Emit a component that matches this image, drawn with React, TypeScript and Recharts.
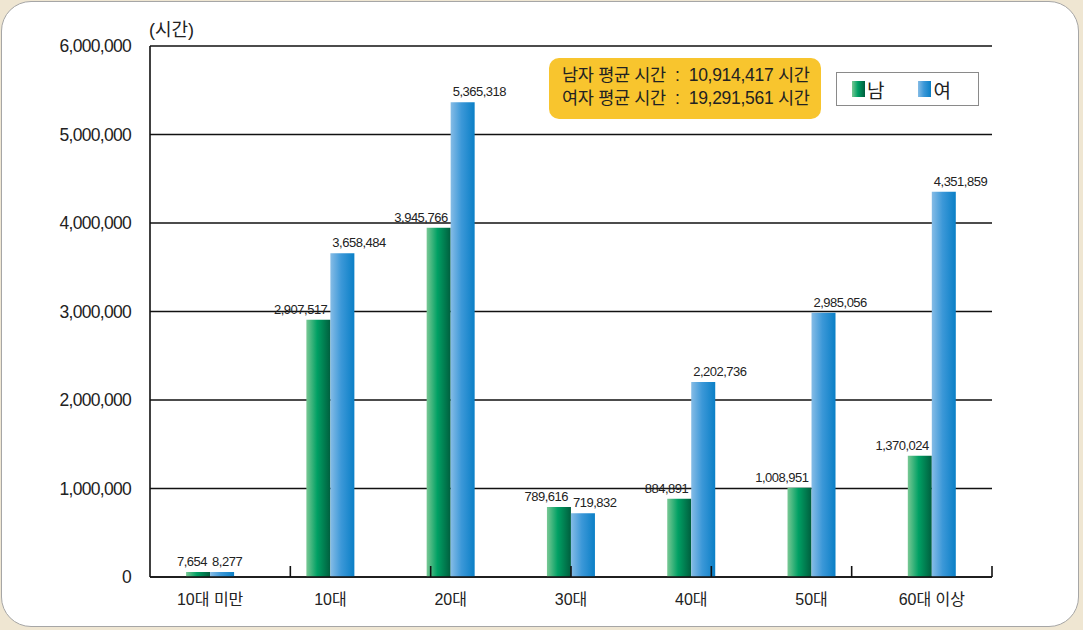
import React from "react"
import {
  BarChart,
  Bar,
  XAxis,
  YAxis,
  CartesianGrid,
} from "recharts"

// 연령대별 이용 시간 (남/여)
const categories = ["10대 미만", "10대", "20대", "30대", "40대", "50대", "60대 이상"]
const maleValues = [7654, 2907517, 3945766, 789616, 884891, 1008951, 1370024]
const femaleValues = [8277, 3658484, 5365318, 719832, 2202736, 2985056, 4351859]
const yTicks = [0, 1000000, 2000000, 3000000, 4000000, 5000000, 6000000]
const boundaryTicks = [1, 2, 3, 4, 5, 6]
const seriesNames = ["남", "여"]
const summaryLines = [
  { label: "남자 평균 시간", value: "10,914,417 시간" },
  { label: "여자 평균 시간", value: "19,291,561 시간" },
]

const data = categories.map((name, i) => ({
  name,
  male: maleValues[i],
  female: femaleValues[i],
}))

const NUM_FONT = "'Liberation Sans', Arial, 'Noto Sans CJK KR', sans-serif"
const KR_FONT = "'Liberation Sans', 'Noto Sans CJK KR', sans-serif"

const greenCss = "linear-gradient(to right, #79c894 0%, #00a064 45%, #005e3e 100%)"
const blueCss = "linear-gradient(to right, #86bce6 0%, #3c98d8 45%, #0a7fc6 100%)"

const fmt = (v: number) => v.toLocaleString("en-US")

const MaleLabel = (props: any) => {
  const { x, y, width, value } = props
  return (
    <text
      x={x + width - 3}
      y={y - 6}
      textAnchor="end"
      fontSize={13}
      fontFamily={NUM_FONT}
      letterSpacing={-0.5}
      fill="#222"
    >
      {fmt(value)}
    </text>
  )
}

const FemaleLabel = (props: any) => {
  const { x, y, value } = props
  return (
    <text
      x={x + 2}
      y={y - 6}
      textAnchor="start"
      fontSize={13}
      fontFamily={NUM_FONT}
      letterSpacing={-0.5}
      fill="#222"
    >
      {fmt(value)}
    </text>
  )
}

const LegendBox = () => (
  <div
    style={{
      position: "absolute",
      left: 836,
      top: 72,
      width: 143,
      height: 34,
      border: "1px solid #8a8a8a",
      background: "#fff",
      display: "flex",
      alignItems: "center",
      fontFamily: KR_FONT,
      fontSize: 19,
      color: "#222",
      boxSizing: "border-box",
    }}
  >
    <span style={{ display: "inline-block", width: 13, height: 16, background: greenCss, marginLeft: 15 }} />
    <span style={{ marginLeft: 2 }}>{seriesNames[0]}</span>
    <span style={{ display: "inline-block", width: 13, height: 16, background: blueCss, marginLeft: 34 }} />
    <span style={{ marginLeft: 2 }}>{seriesNames[1]}</span>
  </div>
)

export default function App() {
  return (
    <div
      style={{
        position: "absolute",
        left: 0,
        top: 0,
        width: 1083,
        height: 630,
        background: "#efe6d2",
        overflow: "hidden",
      }}
    >
      {/* white panel */}
      <div
        style={{
          position: "absolute",
          left: 1,
          top: 1,
          width: 1078,
          height: 626,
          background: "#fff",
          border: "1.5px solid #a6a6a6",
          borderRadius: 30,
          boxSizing: "border-box",
        }}
      />

      <div
        style={{
          position: "absolute",
          left: 149,
          top: 15,
          fontFamily: KR_FONT,
          fontSize: 18,
          color: "#222",
        }}
      >
        (시간)
      </div>

      <div style={{ position: "absolute", left: 0, top: 0 }}>
        <BarChart
          width={1083}
          height={630}
          data={data}
          margin={{ top: 46, right: 91, left: 0, bottom: 0 }}
          barCategoryGap="30%"
          barGap={0}
        >
          <defs>
            <linearGradient id="gMale" x1="0" y1="0" x2="1" y2="0">
              <stop offset="0%" stopColor="#79c894" />
              <stop offset="45%" stopColor="#00a064" />
              <stop offset="100%" stopColor="#005e3e" />
            </linearGradient>
            <linearGradient id="gFemale" x1="0" y1="0" x2="1" y2="0">
              <stop offset="0%" stopColor="#86bce6" />
              <stop offset="45%" stopColor="#3c98d8" />
              <stop offset="100%" stopColor="#0a7fc6" />
            </linearGradient>
          </defs>
          <CartesianGrid vertical={false} stroke="#111" strokeWidth={1.4} />
          <XAxis
            xAxisId="bounds"
            type="number"
            domain={[0, 7]}
            ticks={boundaryTicks}
            mirror
            axisLine={false}
            tickSize={11}
            tickLine={{ stroke: "#111", strokeWidth: 1.6 }}
            tick={{ fontSize: 0, fill: "none" }}
            tickFormatter={() => ""}
          />
          <XAxis
            dataKey="name"
            height={53}
            axisLine={{ stroke: "#111", strokeWidth: 1.6 }}
            tickLine={false}
            tickSize={0}
            tickMargin={17}
            tick={{ fontSize: 16, fill: "#222", fontFamily: KR_FONT }}
          />
          <YAxis
            width={150}
            domain={[0, 6000000]}
            ticks={yTicks}
            interval={0}
            tickFormatter={fmt}
            axisLine={{ stroke: "#111", strokeWidth: 1.6 }}
            tickLine={false}
            tickMargin={13}
            tick={{ fontSize: 17.5, fill: "#222", fontFamily: NUM_FONT, letterSpacing: -0.7 }}
          />
          <YAxis
            yAxisId="frame"
            orientation="right"
            width={0}
            domain={[0, 6000000]}
            tick={false}
            tickLine={false}
            axisLine={{ stroke: "#111", strokeWidth: 1.6 }}
          />
          <Bar dataKey="male" name={seriesNames[0]} fill="url(#gMale)" minPointSize={5} isAnimationActive={false} label={<MaleLabel />} />
          <Bar dataKey="female" name={seriesNames[1]} fill="url(#gFemale)" minPointSize={5} isAnimationActive={false} label={<FemaleLabel />} />
        </BarChart>
      </div>

      <LegendBox />

      {/* 평균 시간 박스 */}
      <div
        style={{
          position: "absolute",
          left: 549,
          top: 58,
          width: 272,
          height: 61,
          background: "#f8c52e",
          borderRadius: 10,
          fontFamily: KR_FONT,
          fontSize: 17.5,
          color: "#222",
          boxSizing: "border-box",
          paddingLeft: 13,
          paddingTop: 6,
          lineHeight: "23px",
          letterSpacing: -0.3,
        }}
      >
        {summaryLines.map((l) => (
          <div key={l.label} style={{ whiteSpace: "pre" }}>
            {l.label}  :  {l.value}
          </div>
        ))}
      </div>
    </div>
  )
}
